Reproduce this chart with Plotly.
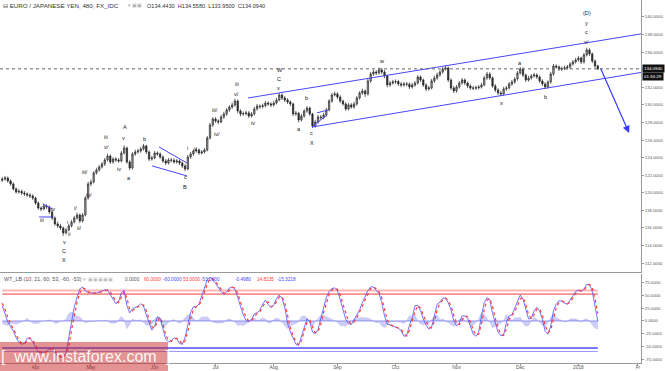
import plotly.graph_objects as go

# ---------------- data ----------------
day_index = list(range(-12, 204))  # trading-day index, 0 = 3 Apr 2017

opens = [121.40,121.56,121.68,121.34,121.00,120.43,120.09,120.15,119.97,119.86,119.74,119.63,
119.40,118.83,118.26,118.15,118.49,118.38,117.81,117.13,116.45,116.22,115.99,115.42,115.76,116.22,116.67,117.13,117.47,116.79,
117.47,119.40,121.00,121.22,122.25,122.59,122.93,123.27,123.73,124.18,123.50,123.84,123.73,123.61,124.52,125.09,123.50,122.82,
124.41,124.64,124.75,124.98,125.32,124.64,123.84,123.95,124.52,124.41,124.07,123.61,123.38,123.73,123.70,123.50,123.61,123.38,
123.04,122.70,124.07,124.41,124.75,124.87,124.52,124.64,124.87,126.23,127.71,128.39,128.17,128.05,128.62,128.96,129.42,129.76,
129.99,130.44,129.30,128.96,129.00,129.08,128.73,128.96,129.53,129.87,129.80,129.90,130.21,130.10,129.99,130.21,130.55,131.12,
130.78,130.55,130.33,130.10,128.96,129.05,128.28,128.73,129.30,129.64,128.96,127.60,128.05,128.62,128.55,128.85,129.42,130.44,
131.12,131.24,130.90,130.44,130.10,129.53,129.99,129.76,130.10,130.78,131.35,131.58,131.24,132.72,133.51,133.74,133.63,133.97,
133.74,133.29,132.26,132.49,132.60,132.65,132.38,132.26,132.38,132.35,132.03,132.26,132.49,133.17,132.83,132.26,131.81,131.92,
132.72,133.06,133.40,133.74,134.08,134.20,132.83,131.92,131.58,132.03,132.49,132.83,132.49,132.15,131.92,131.90,131.95,132.03,
132.26,133.06,133.51,133.06,132.15,131.69,131.35,131.24,131.81,131.92,132.38,132.60,132.94,133.63,134.08,133.40,132.83,133.06,
133.29,133.40,133.17,132.72,132.38,132.03,132.60,133.51,134.42,134.31,134.08,134.10,134.20,134.31,134.65,134.88,135.11,135.34,
134.88,135.68,136.25,135.80,134.99,134.443]
highs = [121.80,121.92,121.85,121.52,121.18,120.60,120.40,120.35,120.20,120.05,119.95,119.82,
119.55,119.02,118.45,118.75,118.70,118.55,118.00,117.30,116.70,116.45,116.15,116.00,116.45,116.90,117.35,117.75,117.65,117.70,
119.60,121.25,121.50,122.45,122.85,123.15,123.50,123.95,124.45,124.35,124.05,124.05,123.95,124.75,125.40,125.25,123.70,124.60,
124.90,125.00,125.20,125.55,125.45,124.80,124.20,124.75,124.70,124.60,124.25,123.85,123.95,123.95,123.90,123.85,123.80,123.55,
123.25,124.30,124.65,124.95,125.10,125.05,124.85,125.10,126.45,127.95,128.60,128.60,128.35,128.85,129.20,129.65,129.95,130.25,
130.70,130.60,129.50,129.25,129.35,129.30,129.20,129.75,130.10,130.05,130.15,130.45,130.40,130.30,130.45,130.80,131.35,131.30,
131.00,130.75,130.50,130.25,129.30,129.20,128.95,129.50,129.85,129.80,129.10,128.30,128.85,128.85,129.10,129.65,130.65,131.35,
131.50,131.45,131.10,130.60,130.30,130.20,130.20,130.35,131.00,131.55,131.85,131.75,132.95,133.75,134.00,133.95,134.25,134.20,
133.95,133.45,132.75,132.85,132.90,132.85,132.60,132.60,132.60,132.55,132.50,132.70,133.40,133.35,133.00,132.45,132.15,132.95,
133.30,133.65,133.95,134.30,134.45,134.35,133.00,132.15,132.25,132.70,133.05,133.00,132.65,132.35,132.15,132.20,132.25,132.50,
133.30,133.75,133.70,133.25,132.35,131.90,131.55,132.05,132.15,132.60,132.85,133.15,133.85,134.30,134.25,133.55,133.30,133.50,
133.65,133.60,133.35,132.90,132.55,132.80,133.75,134.65,134.60,134.50,134.35,134.45,134.55,134.85,135.10,135.35,135.55,135.50,
135.90,136.50,136.45,135.95,135.15,134.558]
lows = [121.25,121.38,121.15,120.80,120.25,119.90,119.92,119.75,119.62,119.50,119.40,119.18,
118.62,118.05,117.90,118.00,118.15,117.60,116.90,116.25,116.00,115.75,115.10,115.25,115.60,116.05,116.50,116.95,116.55,116.60,
117.30,119.20,120.75,121.05,122.05,122.40,122.75,123.05,123.55,123.28,123.30,123.50,123.40,123.45,124.35,123.30,122.55,122.65,
124.20,124.45,124.55,124.80,124.40,123.60,123.65,123.80,124.20,123.85,123.40,123.15,123.20,123.45,123.30,123.30,123.15,122.80,
122.45,122.55,123.85,124.20,124.55,124.30,124.35,124.45,124.70,126.05,127.50,127.95,127.80,127.90,128.40,128.75,129.20,129.55,
129.80,129.05,128.70,128.75,128.80,128.50,128.55,128.80,129.35,129.55,129.60,129.70,129.90,129.75,129.80,130.05,130.40,130.55,
130.30,130.10,129.85,128.70,128.75,128.00,128.10,128.55,129.10,128.75,127.35,127.40,127.85,128.30,128.35,128.65,129.25,130.25,
130.95,130.65,130.20,129.90,129.30,129.35,129.55,129.55,129.90,130.60,131.15,130.90,131.05,132.50,133.30,133.40,133.45,133.50,
133.05,132.00,132.05,132.30,132.40,132.15,132.00,132.05,132.10,131.80,131.85,132.05,132.30,132.60,132.05,131.55,131.60,131.75,
132.50,132.85,133.20,133.55,133.90,132.60,131.70,131.35,131.40,131.85,132.30,132.25,131.90,131.70,131.65,131.70,131.75,131.85,
132.10,132.85,132.85,131.95,131.45,131.10,131.00,131.05,131.60,131.75,132.15,132.40,132.75,133.45,133.15,132.60,132.65,132.85,
133.10,132.95,132.50,132.15,131.80,131.85,132.40,133.30,134.10,133.85,133.85,133.95,134.00,134.10,134.45,134.70,134.90,134.65,
134.70,135.50,135.55,134.75,134.20,133.950]
closes = [121.56,121.68,121.34,121.00,120.43,120.09,120.15,119.97,119.86,119.74,119.63,119.40,
118.83,118.26,118.15,118.49,118.38,117.81,117.13,116.45,116.22,115.99,115.42,115.76,116.22,116.67,117.13,117.47,116.79,117.47,
119.40,121.00,121.22,122.25,122.59,122.93,123.27,123.73,124.18,123.50,123.84,123.73,123.61,124.52,125.09,123.50,122.82,124.41,
124.64,124.75,124.98,125.32,124.64,123.84,123.95,124.52,124.41,124.07,123.61,123.38,123.73,123.70,123.50,123.61,123.38,123.04,
122.70,124.07,124.41,124.75,124.87,124.52,124.64,124.87,126.23,127.71,128.39,128.17,128.05,128.62,128.96,129.42,129.76,129.99,
130.44,129.30,128.96,129.00,129.08,128.73,128.96,129.53,129.87,129.80,129.90,130.21,130.10,129.99,130.21,130.55,131.12,130.78,
130.55,130.33,130.10,128.96,129.05,128.28,128.73,129.30,129.64,128.96,127.60,128.05,128.62,128.55,128.85,129.42,130.44,131.12,
131.24,130.90,130.44,130.10,129.53,129.99,129.76,130.10,130.78,131.35,131.58,131.24,132.72,133.51,133.74,133.63,133.97,133.74,
133.29,132.26,132.49,132.60,132.65,132.38,132.26,132.38,132.35,132.03,132.26,132.49,133.17,132.83,132.26,131.81,131.92,132.72,
133.06,133.40,133.74,134.08,134.20,132.83,131.92,131.58,132.03,132.49,132.83,132.49,132.15,131.92,131.90,131.95,132.03,132.26,
133.06,133.51,133.06,132.15,131.69,131.35,131.24,131.81,131.92,132.38,132.60,132.94,133.63,134.08,133.40,132.83,133.06,133.29,
133.40,133.17,132.72,132.38,132.03,132.60,133.51,134.42,134.31,134.08,134.10,134.20,134.31,134.65,134.88,135.11,135.34,134.88,
135.68,136.25,135.80,134.99,134.42,134.094]

wt1 = [30,16,-2,-11,-20,-33,-42,-46,-44,-34,-33,-42,
-52,-61,-63,-62,-59,-55,-53,-62,-70,-71,-70,-64,-35,0,28,47,63,67,
59,56,55,55,55,57,58,61,61,53,43,34,38,56,60,30,16,24,
27,29,34,29,12,-4,-18,-10,8,6,-18,-36,-41,-39,-33,-35,-44,-46,
-32,-8,17,28,28,33,49,64,81,86,81,74,65,58,52,57,65,67,
63,45,30,12,1,-1,3,14,16,21,33,41,33,26,32,44,51,45,
26,-4,-22,-36,-46,-48,-30,-10,4,-1,-22,-25,-17,5,28,46,58,64,
65,60,42,24,3,-5,-7,2,11,22,36,48,60,67,67,60,55,36,
10,-6,-8,-11,-12,-14,-19,-30,-29,-8,6,30,31,20,4,-8,-16,-12,
10,33,37,45,45,36,22,1,-10,-4,10,10,6,-9,-26,-30,-22,10,
36,46,42,15,-5,-22,-29,-28,-3,10,12,24,36,51,43,22,4,5,
20,27,20,3,-20,-26,-10,20,33,40,39,35,33,41,50,58,61,58,
63,72,72,58,30,-0.498]
wt2 = [35,23,7,-6.5,-15.5,-26.5,-37.5,-44,-45,-39,-33.5,-37.5,
-47,-56.5,-62,-62.5,-60.5,-57,-54,-57.5,-66,-70.5,-70.5,-67,-49.5,-17.5,14,37.5,55,65,
63,57.5,55.5,55,55,56,57.5,59.5,61,57,48,38.5,36,47,58,45,23,20,
25.5,28,31.5,31.5,20.5,4,-11,-14,-1,7,-6,-27,-38.5,-40,-36,-34,-39.5,-45,
-39,-20,4.5,22.5,28,30.5,41,56.5,72.5,83.5,83.5,77.5,69.5,61.5,55,54.5,61,66,
65,54,37.5,21,6.5,0,1,8.5,15,18.5,27,37,37,29.5,29,38,47.5,48,
35.5,11,-13,-29,-41,-47,-39,-20,-3,1.5,-11.5,-23.5,-21,-6,16.5,37,52,61,
64.5,62.5,51,33,13.5,-1,-6,-2.5,6.5,16.5,29,42,54,63.5,67,63.5,57.5,45.5,
23,2,-7,-9.5,-11.5,-13,-16.5,-24.5,-29.5,-18.5,-1,18,30.5,25.5,12,-2,-12,-14,
-1,21.5,35,41,45,40.5,29,11.5,-4.5,-7,3,10,8,-1.5,-17.5,-28,-26,-6,
23,41,44,28.5,5,-13.5,-25.5,-28.5,-15.5,3.5,11,18,30,43.5,47,32.5,13,4.5,
12.5,23.5,23.5,11.5,-8.5,-23,-18,5,26.5,36.5,39.5,37,34,37,45.5,54,59.5,59.5,
60.5,67.5,72,65,44,14.8235]
wt_hist = [-5,-7,-9,-4.5,-4.5,-6.5,-4.5,-2,1,5,0.5,-4.5,
-5,-4.5,-1,0.5,1.5,2,1,-4.5,-4,-0.5,0.5,3,14.5,17.5,14,9.5,8,2,
-4,-1.5,-0.5,0,0,1,0.5,1.5,0,-4,-5,-4.5,2,9,2,-15,-7,4,
1.5,1,2.5,-2.5,-8.5,-8,-7,4,9,-1,-12,-9,-2.5,1,3,-1,-4.5,-1,
7,12,12.5,5.5,0,2.5,8,7.5,8.5,2.5,-2.5,-3.5,-4.5,-3.5,-3,2.5,4,1,
-2,-9,-7.5,-9,-5.5,-1,2,5.5,1,2.5,6,4,-4,-3.5,3,6,3.5,-3,
-9.5,-15,-9,-7,-5,-1,9,10,7,-2.5,-10.5,-1.5,4,11,11.5,9,6,3,
0.5,-2.5,-9,-9,-10.5,-4,-1,4.5,4.5,5.5,7,6,6,3.5,0,-3.5,-2.5,-9.5,
-13,-8,-1,-1.5,-0.5,-1,-2.5,-5.5,0.5,10.5,7,12,0.5,-5.5,-8,-6,-4,2,
11,11.5,2,4,0,-4.5,-7,-10.5,-5.5,3,7,0,-2,-7.5,-8.5,-2,4,16,
13,5,-2,-13.5,-10,-8.5,-3.5,0.5,12.5,6.5,1,6,6,7.5,-4,-10.5,-9,0.5,
7.5,3.5,-3.5,-8.5,-11.5,-3,8,15,6.5,3.5,-0.5,-2,-1,4,4.5,4,1.5,-1.5,
2.5,4.5,0,-7,-14,-15.3218]

ob_levels = [60, 53]
os_levels = [-60, -53]

month_ticks = [0, 20, 43, 65, 86, 109, 130, 152, 175, 196, 217.5]
month_labels = ["Apr", "May", "Jun", "Jul", "Aug", "Sep", "Oct", "Nov", "Dec", "2018", "Fr"]
price_ticks = [112, 114, 116, 118, 120, 122, 124, 126, 128, 130, 132, 134, 136, 138, 140]
osc_ticks = [-75, -50, -25, 0, 25, 50, 75]

last_price = 134.094

# wave labels (trading-day index, price)
wave_text = ["iii","iv","v","C","X","i","ii","i/","ii/","iii/","iv/","iii","v/","iv","A","v","a","b",
             "c","B","i","i/","iii/","iv/","iii","v/","iv","W","C","v","a","b","c","X",
             "w","x","a","b","(D)","y","c","v/"]
wave_x = [2.3,6.3,10.3,10.3,10.3,11.7,12.1,14.3,15.7,17.9,19.3,25.5,25.5,30.1,32.3,31.9,33.8,39.2,
          54.0,54.0,54.7,57.9,64.8,65.5,72.7,72.7,78.5,88.3,87.9,87.9,95.1,97.7,99.8,99.8,
          125.1,168.4,174.9,184.3,199.1,199.1,199.1,199.1]
wave_y = [116.90,118.15,114.39,113.37,112.35,116.67,115.31,118.26,115.99,122.36,119.74,126.34,125.21,122.70,127.48,126.23,121.68,126.12,
          121.79,120.65,125.09,124.98,129.42,126.69,132.38,131.24,127.94,133.97,132.94,131.92,127.25,130.78,126.80,125.66,
          134.99,130.21,134.77,130.90,140.46,139.32,138.29,137.16]

# trend lines: (x0, y0, x1, y1) in (trading-day index, price)
channel_upper = [76.7, 130.78, 218.6, 138.07]
channel_lower = [99.8, 127.48, 218.6, 133.69]
wedge_lines = [
    [2.7, 118.72, 6.0, 118.15],
    [1.3, 117.24, 6.0, 117.24],
    [44.6, 125.21, 54.7, 123.38],
    [42.1, 123.05, 54.7, 121.91],
    [99.8, 127.48, 105.2, 128.85],
    [101.6, 129.08, 105.6, 129.42],
]
arrow_line = [203.8, 134.31, 214.3, 126.80]

# ---------------- figure ----------------
FONT = "Liberation Sans, Arial, sans-serif"
BLUE = "#4646ff"
fig = go.Figure()

fig.add_trace(go.Candlestick(
    x=day_index, open=opens, high=highs, low=lows, close=closes,
    increasing=dict(line=dict(color="#262626", width=0.7), fillcolor="#a8a8a8"),
    decreasing=dict(line=dict(color="#262626", width=0.7), fillcolor="#303030"),
    whiskerwidth=0, xaxis="x", yaxis="y", hoverinfo="skip"))

for ln in [channel_upper, channel_lower] + wedge_lines:
    fig.add_trace(go.Scatter(x=[ln[0], ln[2]], y=[ln[1], ln[3]], mode="lines",
                             line=dict(color=BLUE, width=1), xaxis="x", yaxis="y", hoverinfo="skip"))

# oscillator panel
x0, x1 = day_index[0], day_index[-1]
fig.add_trace(go.Scatter(x=day_index, y=wt_hist, mode="lines", fill="tozeroy",
                         fillcolor="rgba(130,130,240,0.4)", line=dict(color="rgba(130,130,240,0.5)", width=0.5),
                         xaxis="x2", yaxis="y2", hoverinfo="skip"))
fig.add_trace(go.Scatter(x=[x0, x1], y=[0, 0], mode="lines", line=dict(color="rgba(110,110,230,0.7)", width=1),
                         xaxis="x2", yaxis="y2", hoverinfo="skip"))
fig.add_trace(go.Scatter(x=[x0, x1], y=[ob_levels[0]] * 2, mode="lines", line=dict(color="rgba(255,90,90,0.45)", width=2),
                         xaxis="x2", yaxis="y2", hoverinfo="skip"))
fig.add_trace(go.Scatter(x=[x0, x1], y=[ob_levels[1]] * 2, mode="lines", line=dict(color="#ee3a3a", width=1),
                         xaxis="x2", yaxis="y2", hoverinfo="skip"))
fig.add_trace(go.Scatter(x=[x0, x1], y=[os_levels[1]] * 2, mode="lines", line=dict(color="#4a4aff", width=1.5),
                         xaxis="x2", yaxis="y2", hoverinfo="skip"))
fig.add_trace(go.Scatter(x=[x0, x1], y=[os_levels[0]] * 2, mode="lines", line=dict(color="rgba(80,80,255,0.6)", width=1),
                         xaxis="x2", yaxis="y2", hoverinfo="skip"))
fig.add_trace(go.Scatter(x=day_index, y=wt1, mode="lines", line=dict(color="rgba(70,70,255,0.75)", width=1),
                         xaxis="x2", yaxis="y2", hoverinfo="skip"))
fig.add_trace(go.Scatter(x=day_index, y=wt2, mode="lines", line=dict(color="#ff3b3b", width=1.2, dash="dot"),
                         xaxis="x2", yaxis="y2", hoverinfo="skip"))

annotations = []
for t, xx, yy in zip(wave_text, wave_x, wave_y):
    annotations.append(dict(x=xx, y=yy, xref="x", yref="y", text=t, showarrow=False,
                            font=dict(family=FONT, size=5.6, color="#222")))

annotations.append(dict(x=arrow_line[2], y=arrow_line[3], ax=arrow_line[0], ay=arrow_line[1],
                        xref="x", yref="y", axref="x", ayref="y", showarrow=True, arrowhead=2,
                        arrowsize=1.2, arrowwidth=1.2, arrowcolor="#3a3aff", text=""))

# header texts
W_PLOT = 641.0
H_PLOT = 363.0
def px(xp):
    return xp / W_PLOT
def py(yp):
    return (H_PLOT - yp) / H_PLOT

annotations.append(dict(x=px(1), y=py(6), xref="paper", yref="paper", xanchor="left", yanchor="middle",
                        text="⊟ EURO / JAPANESE YEN, 480, FX_IDC",
                        showarrow=False, font=dict(family=FONT, size=6.2, color="#333")))
annotations.append(dict(x=px(126), y=py(6), xref="paper", yref="paper", xanchor="left", yanchor="middle",
                        text="▾ ▣▣", showarrow=False, font=dict(family=FONT, size=4.5, color="#aaa")))
annotations.append(dict(x=px(145), y=py(6), xref="paper", yref="paper", xanchor="left", yanchor="middle",
                        text="O134.4430  H134.5580  L133.9500  C134.0940",
                        showarrow=False, font=dict(family=FONT, size=5.6, color="#333")))

osc_parts = [(2, "WT_LB (10, 21, 60, 53, -60, -53) <span style='color:#bbb'>▾ ▣▣▣▣▣</span>", "#555"),
             (123, "0.0000", "#555"), (142, "60.0000", "#ff3b3b"), (161, "-60.0000", "#4646ff"),
             (181, "53.0000", "#ff3b3b"), (199, "-53.0000", "#4646ff"), (233, "-0.4980", "#4646ff"),
             (255, "14.8235", "#ff3b3b"), (275, "-15.3218", "#4646ff")]
for k, (xp, t, c) in enumerate(osc_parts):
    annotations.append(dict(x=px(xp), y=py(279), xref="paper", yref="paper", xanchor="left", yanchor="middle",
                            text=t, showarrow=False,
                            font=dict(family=FONT, size=5.4 if k == 0 else 4.7, color=c)))

# price tag on the axis
annotations.append(dict(x=1, y=last_price, xref="paper", yref="y", xanchor="left", yanchor="middle", xshift=1,
                        text="134.0940", showarrow=False, bgcolor="#111", borderpad=1,
                        font=dict(family=FONT, size=4.4, color="white")))
annotations.append(dict(x=1, y=last_price, xref="paper", yref="y", xanchor="left", yanchor="middle", xshift=1,
                        yshift=-8, text="01:34:29", showarrow=False, bgcolor="#111", borderpad=1,
                        font=dict(family=FONT, size=4.4, color="white")))

# watermark
annotations.append(dict(x=px(85), y=py(356), xref="paper", yref="paper", xanchor="center", yanchor="middle",
                        text="[  www.instaforex.com  ]", showarrow=False,
                        font=dict(family=FONT, size=16, color="rgba(255,255,255,0.95)")))

shapes = [
    dict(type="line", xref="paper", yref="y", x0=0, x1=1, y0=last_price, y1=last_price,
         line=dict(color="#666", width=1, dash="dot")),
    dict(type="rect", xref="paper", yref="paper", x0=0, x1=px(168), y0=py(342), y1=py(371),
         fillcolor="rgba(200,40,40,0.5)", line=dict(width=0), layer="above"),
]

fig.update_layout(
    width=665, height=371,
    margin=dict(l=0, r=24, t=0, b=8, autoexpand=False),
    paper_bgcolor="white", plot_bgcolor="white",
    showlegend=False,
    xaxis=dict(domain=[0, 1], range=[-12.82, 218.6], anchor="y", showticklabels=False,
               showline=True, linecolor="#9a9a9a", linewidth=1, showgrid=False, zeroline=False,
               rangeslider=dict(visible=False), automargin=False),
    xaxis2=dict(domain=[0, 1], range=[-12.82, 218.6], anchor="y2", matches="x",
                tickvals=month_ticks, ticktext=month_labels, ticks="outside", ticklen=2, tickcolor="#999",
                ticklabelstandoff=-3, automargin=False,
                showline=True, linecolor="#9a9a9a", linewidth=1, showgrid=False, zeroline=False,
                tickfont=dict(family=FONT, size=4.8, color="#555")),
    yaxis=dict(domain=[0.2507, 1], range=[110.98, 141.93], side="right", anchor="x",
               tickvals=price_ticks, ticktext=[f"{v:.4f}" for v in price_ticks], automargin=False,
               ticks="outside", ticklen=2, tickcolor="#999", showline=True, linecolor="#9a9a9a",
               showgrid=False, zeroline=False, tickfont=dict(family=FONT, size=4.3, color="#555")),
    yaxis2=dict(domain=[0, 0.2452], range=[-82.7, 92.5], side="right", anchor="x2",
                tickvals=osc_ticks, ticktext=[f"{v:.4f}" for v in osc_ticks], automargin=False,
                ticks="outside", ticklen=2, tickcolor="#999", showline=True, linecolor="#9a9a9a",
                showgrid=False, zeroline=False, tickfont=dict(family=FONT, size=4.3, color="#555")),
    annotations=annotations,
    shapes=shapes,
)

fig.write_html("out.html", config={"displayModeBar": False},
               post_script="document.body.style.margin='0';document.body.style.padding='0';document.body.style.overflow='hidden';")
